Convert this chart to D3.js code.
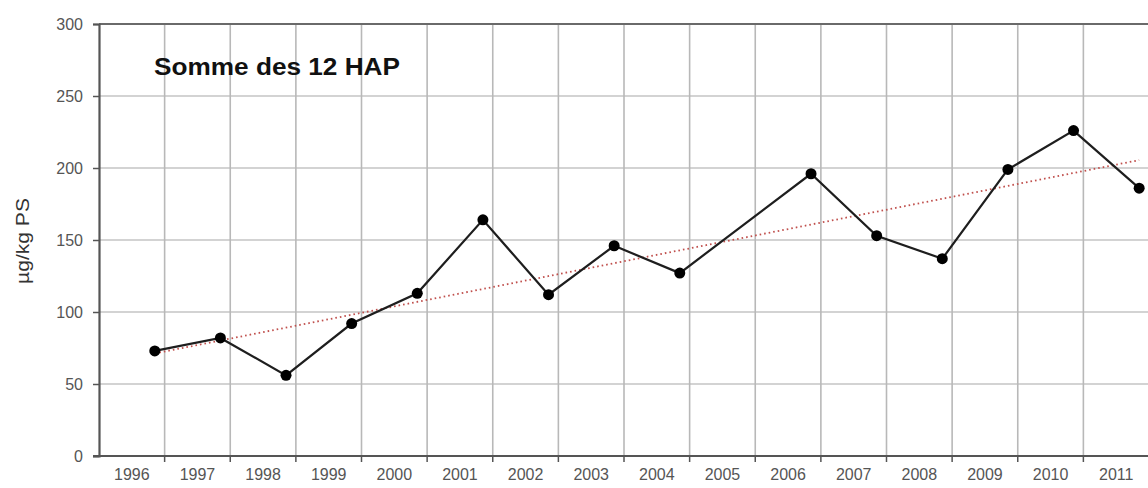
<!DOCTYPE html>
<html>
<head>
<meta charset="utf-8">
<script src="https://cdn.jsdelivr.net/npm/d3@7"></script>
<style>
  html, body { margin: 0; padding: 0; background: #fff; }
  svg { display: block; }
</style>
</head>
<body>
<svg id="chart" width="1148" height="488"></svg>
<script>
// Somme des 12 HAP, µg/kg PS, one sample per year (none in 2005)
const years = [1996, 1997, 1998, 1999, 2000, 2001, 2002, 2003, 2004, 2005, 2006, 2007, 2008, 2009, 2010, 2011];
const values = [73, 82, 56, 92, 113, 164, 112, 146, 127, null, 196, 153, 137, 199, 226, 186];
const yTicks = [0, 50, 100, 150, 200, 250, 300];
const sampleFraction = 0.85; // samples are taken late in each year

const title = "Somme des 12 HAP";
const yLabel = "µg/kg PS";

const svg = d3.select("#chart");
const plot = { left: 99, right: 1149, top: 24, bottom: 456 };
const font = "'Liberation Sans', Arial, sans-serif";

const x = d3.scaleLinear()
  .domain([years[0], years[years.length - 1] + 1])
  .range([plot.left, plot.right]);
const band = d3.scaleBand()
  .domain(years)
  .range([plot.left, plot.right])
  .padding(0);
const y = d3.scaleLinear()
  .domain([0, 300])
  .range([plot.bottom, plot.top]);

const points = years
  .map((yr, i) => ({ year: yr, t: yr + sampleFraction, v: values[i] }))
  .filter(d => d.v != null);

// gridlines
const grid = svg.append("g");
grid.selectAll("line.h")
  .data(yTicks.filter(t => t > 0 && t < 300))
  .join("line")
  .attr("x1", plot.left).attr("x2", plot.right)
  .attr("y1", d => y(d)).attr("y2", d => y(d))
  .attr("stroke", "#c4c4c4").attr("stroke-width", 1.6);
grid.selectAll("line.v")
  .data(years.slice(1))
  .join("line")
  .attr("x1", d => band(d)).attr("x2", d => band(d))
  .attr("y1", plot.top).attr("y2", plot.bottom)
  .attr("stroke", "#b8b8b8").attr("stroke-width", 1.6);

// top border
svg.append("line")
  .attr("x1", plot.left).attr("x2", plot.right)
  .attr("y1", plot.top).attr("y2", plot.top)
  .attr("stroke", "#6a6a6a").attr("stroke-width", 2);

// y axis
const yAxis = svg.append("g")
  .attr("transform", `translate(${plot.left},0)`)
  .call(d3.axisLeft(y).tickValues(yTicks).tickSize(6).tickPadding(10));
yAxis.select(".domain").attr("stroke", "#555").attr("stroke-width", 2.2);
yAxis.selectAll(".tick line").attr("stroke", "#555").attr("stroke-width", 1.5);
yAxis.selectAll(".tick text")
  .attr("fill", "#555")
  .style("font-family", font)
  .style("font-size", "16px");

// x axis: ticks at year boundaries, labels centred in each year
const xAxis = svg.append("g")
  .attr("transform", `translate(0,${plot.bottom})`);
xAxis.append("line")
  .attr("x1", plot.left - 6).attr("x2", plot.right)
  .attr("y1", 0).attr("y2", 0)
  .attr("stroke", "#555").attr("stroke-width", 2.2);
xAxis.selectAll("line.tick")
  .data(years.slice(1))
  .join("line")
  .attr("class", "tick")
  .attr("x1", d => band(d)).attr("x2", d => band(d))
  .attr("y1", 0).attr("y2", 6)
  .attr("stroke", "#555").attr("stroke-width", 1.5);
xAxis.selectAll("text")
  .data(years)
  .join("text")
  .attr("x", d => band(d) + band.bandwidth() / 2)
  .attr("y", 24)
  .attr("text-anchor", "middle")
  .attr("fill", "#555")
  .style("font-family", font)
  .style("font-size", "16px")
  .text(d => d);

// linear trend (least squares)
const n = points.length;
const mx = d3.mean(points, d => d.t);
const my = d3.mean(points, d => d.v);
const slope = d3.sum(points, d => (d.t - mx) * (d.v - my)) / d3.sum(points, d => (d.t - mx) ** 2);
const intercept = my - slope * mx;
const t0 = points[0].t, t1 = points[n - 1].t;
svg.append("line")
  .attr("x1", x(t0)).attr("y1", y(intercept + slope * t0))
  .attr("x2", x(t1)).attr("y2", y(intercept + slope * t1))
  .attr("stroke", "#c0504d")
  .attr("stroke-width", 1.8)
  .attr("stroke-dasharray", "1.6,3");

// series line and markers
svg.append("path")
  .datum(points)
  .attr("d", d3.line().x(d => x(d.t)).y(d => y(d.v)))
  .attr("fill", "none")
  .attr("stroke", "#1e1e1e")
  .attr("stroke-width", 2.2);
svg.selectAll("circle.pt")
  .data(points)
  .join("circle")
  .attr("class", "pt")
  .attr("cx", d => x(d.t)).attr("cy", d => y(d.v))
  .attr("r", 5.5)
  .attr("fill", "#000");

// title
svg.append("text")
  .attr("x", 154).attr("y", 75)
  .attr("textLength", 246)
  .attr("lengthAdjust", "spacingAndGlyphs")
  .attr("fill", "#111")
  .style("font-family", font)
  .style("font-weight", "bold")
  .style("font-size", "23px")
  .text(title);

// y axis label
svg.append("text")
  .attr("transform", "translate(29,241) rotate(-90)")
  .attr("text-anchor", "middle")
  .attr("textLength", 86)
  .attr("lengthAdjust", "spacingAndGlyphs")
  .attr("fill", "#333")
  .style("font-family", font)
  .style("font-size", "19px")
  .text(yLabel);
</script>
</body>
</html>
